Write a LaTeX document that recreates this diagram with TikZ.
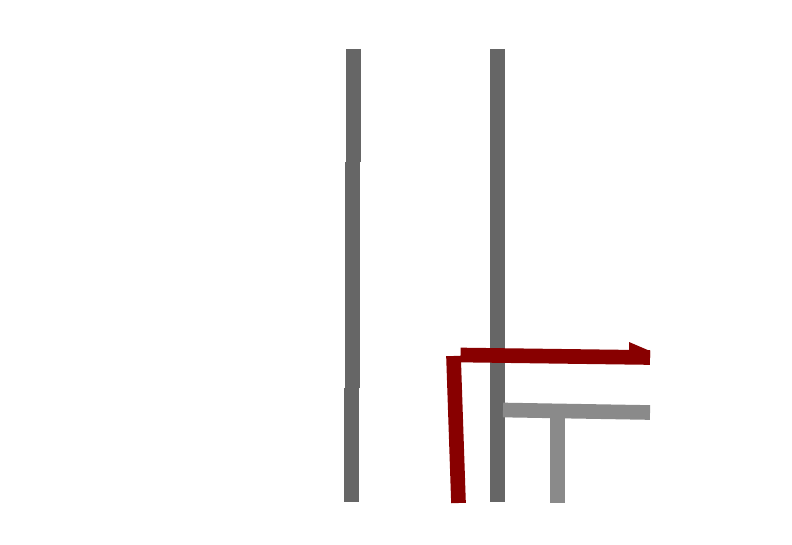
\documentclass[tikz,border=0pt]{standalone}
\usetikzlibrary{arrows.meta}
\definecolor{wallgray}{HTML}{666666}
\definecolor{pipegray}{HTML}{8A8A8A}
\definecolor{routered}{HTML}{880000}
\tikzset{wall/.style={draw=wallgray, line width=11.25pt},
  pipe/.style={draw=pipegray, line width=11pt},
  route/.style={draw=routered, line width=11pt}}
\begin{document}
\begin{tikzpicture}[x=0.75pt, y=-0.75pt]
\useasboundingbox (0,0) rectangle (792,545);
\coordinate (a1) at (353.5,49);
\coordinate (a2) at (352.5,162);
\coordinate (a3) at (351.5,388);
\coordinate (a4) at (351.5,502);
\coordinate (b1) at (497.5,49);
\coordinate (b2) at (497.5,502);
\coordinate (r1) at (458.5,503);
\coordinate (r2) at (453.5,356);
\coordinate (r3) at (460.5,355);
\coordinate (r4) at (650,357.5);
\coordinate (g1) at (503,410);
\coordinate (g2) at (650,412.5);
\coordinate (g3) at (557.5,414);
\coordinate (g4) at (557.5,503);

\draw[wall] (a1) -- (a1 |- a2);
\draw[wall] (a2) -- (a2 |- a3);
\draw[wall] (a3) -- (a4);
\draw[wall] (b1) -- (b2);

\draw[pipe] (g1) -- (g2);
\draw[pipe] (g3) -- (g4);

\draw[route] (r1) -- (r2);
\draw[route] (r3) -- (r4);
\fill[routered] (629,342) -- (650,351) -- (650,357.5) -- (629,357.5) -- cycle;
\end{tikzpicture}
\end{document}
